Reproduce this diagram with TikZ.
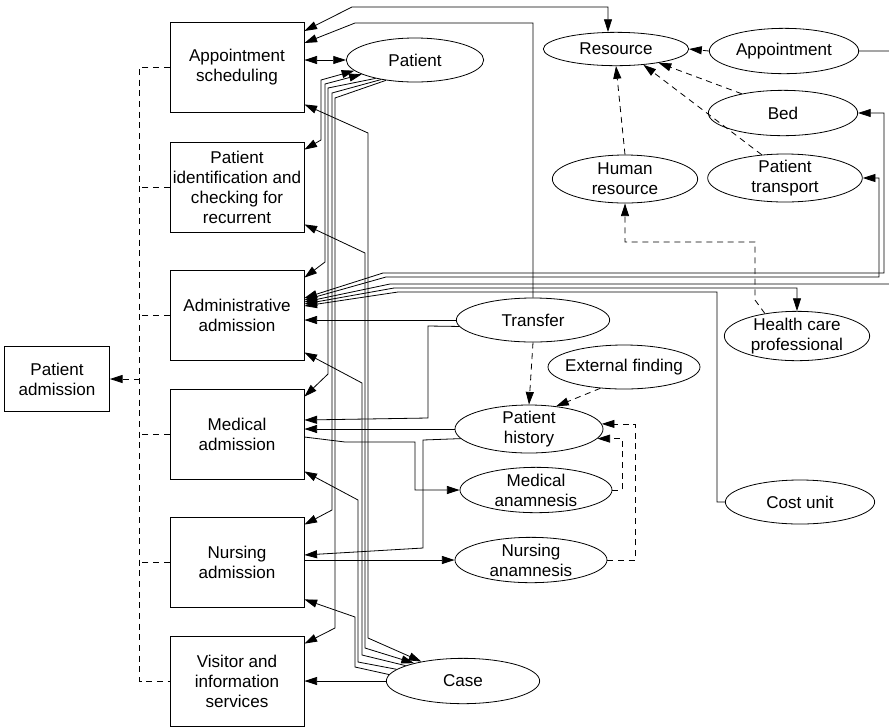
\documentclass[tikz,border=0pt]{standalone}
\usepackage{fontspec}
\setmainfont{Liberation Sans}
\usetikzlibrary{arrows.meta,shapes.geometric}
\tikzset{>={Triangle[length=9.5pt,width=6pt]}}
\tikzset{box/.style={draw,align=center,minimum width=100.5pt,minimum height=67.5pt,inner sep=1pt},
	ent/.style={draw,ellipse,align=center,minimum width=112pt,minimum height=34pt,inner xsep=-8pt,inner ysep=-4pt},
	dsh/.style={dash pattern=on 4.5pt off 3.5pt}}

\begin{document}
\begin{tikzpicture}[x=0.75pt,y=-0.75pt,line width=0.6pt,font=\fontsize{12.8pt}{15pt}\selectfont]
	\useasboundingbox (0,0) rectangle (889,726);
	% functions
	\node (as) at(237,67)[box]{Appointment\\scheduling};
	\node (pi) at(237,187)[box]{Patient\\identification and\\checking for\\recurrent};
	\node (aa) at(237,315)[box]{Administrative\\admission};
	\node (ma) at(237,434)[box]{Medical\\admission};
	\node (na) at(237,562)[box]{Nursing\\admission};
	\node (vi) at(237,681)[box]{Visitor and\\information\\services};
	\node (pa) at(57,379)[box,minimum width=78.75pt,minimum height=48.75pt]{Patient\\admission};
	% entities
	\node (pat) at(415,60)[ent,minimum width=103pt,minimum height=33pt]{Patient};
	\node (res) at(616,49)[ent,minimum width=109pt,minimum height=25pt]{Resource};
	\node (app) at(784,51)[ent]{Appointment};
	\node (bed) at(783,113)[ent]{Bed};
	\node (hr) at(625,179)[ent,minimum width=109pt,minimum height=36pt]{Human\\resource};
	\node (pt) at(785,178)[ent,minimum width=116pt,minimum height=36pt]{Patient\\transport};
	\node (tr) at(533,320)[ent,minimum width=115pt,minimum height=33pt]{Transfer};
	\node (hcp) at(797,336)[ent,minimum width=109pt,minimum height=37pt]{Health care\\professional};
	\node (ext) at(624,367)[ent,minimum width=114pt,minimum height=33pt]{External finding};
	\node (ph) at(529,429)[ent,minimum width=111pt,minimum height=36pt]{Patient\\history};
	\node (man) at(536,490)[ent,minimum width=114pt]{Medical\\anamnesis};
	\node (nan) at(531,560)[ent,minimum width=114pt]{Nursing\\anamnesis};
	\node (cu) at(800,502)[ent,minimum height=33pt]{Cost unit};
	\node (cs) at(463,681)[ent,minimum width=115pt]{Case};
	% decomposition
	\draw[dsh] (as.west) -- ++(-30,0) coordinate (t1) -- (t1 |- vi.west) -- (vi.west);
	\foreach \b in {pi,aa,ma,na} \draw[dsh] (\b.west) -- (\b.west -| t1);
	\draw[dsh,->] (t1 |- pa.east) -- (pa.east);
	% top
	\draw[<->] (as.east |- 0,31) -- (352,7) -- (608,7) -- (res.north -| 608,0);
	\draw[->] (tr.north) |- (355,23) -- (as.east |- 0,43);
	\draw[<->] (as.east |- pat.west) -- (pat.west);
	% patient bundle
	\draw[<->] (pat.190) -- (321,80) -- (321,140) -- ([yshift=-6pt]pi.north east);
	\draw[<->] (pat.195) -- (325,84) -- (325,262) -- ([yshift=-6pt]aa.north east);
	\draw[->] (pat.205) -- (328,88) -- (328,374) -- ([yshift=-6pt]ma.north east);
	\draw[->] (pat.210) -- (332,93) -- (332,510) -- ([yshift=-6pt]na.north east);
	\draw[->] (pat.215) -- (335,98) -- (335,628) -- ([yshift=-6pt]vi.north east);
	% case bundle
	\draw[<->] (cs.155) -- (368,638) -- (368,133) -- ([yshift=6pt]as.south east);
	\draw[<->] (cs.160) -- (365,648) -- (365,253) -- ([yshift=6pt]pi.south east);
	\draw[->] (cs.165) -- (362,655) -- (362,383) -- ([yshift=6pt]aa.south east);
	\draw[->] (cs.170) -- (358,662) -- (358,500) -- ([yshift=6pt]ma.south east);
	\draw[->] (cs.175) -- (355,667) -- (355,617) -- ([yshift=6pt]na.south east);
	\draw[->] (cs.west) -- (vi.east |- cs.west);
	% administrative admission
	\draw[<->] (aa.east |- 0,298) -- (383,273) -- (884,273) |- (bed.east);
	\draw[<->] (aa.east |- 0,300) -- (386,277) -- (879,277) |- (pt.east);
	\draw[->] (app.east) -- (895,51) |- (390,284) -- (aa.east |- 0,302);
	\draw[<->] (aa.east |- 0,304) -- (394,288) -| (hcp.north);
	\draw[->] (cu.west) -| (717,292) -- (398,292) -- (aa.east |- 0,306);
	\draw[->] (tr.west) -- (aa.east |- tr.west);
	% medical and nursing
	\draw[->] (tr.185) -- (428,326) -- (428,418) -- (ma.east |- 0,420);
	\draw[dsh,->] (tr.south) -- (ph.north);
	\draw[dsh,->] (ext.222) -- (ph.40);
	\draw[->] (ph.west) -- (ma.east |- ph.west);
	\draw[->] (ma.east |- 0,437) -- (345,442) -- (415,442) |- (man.west);
	\draw[->] (ph.188) -- (423,440) -- (423,548) -- (na.east |- 0,555);
	\draw[->] (na.east |- nan.west) -- (nan.west);
	\draw[dsh,->] (man.east) -- ++(10,0) |- (ph.-8);
	\draw[dsh,->] (nan.east) -- ++(28,0) |- (ph.4);
	% resources
	\draw[dsh,->] (app.west) -- (res.east);
	\draw[dsh,->] (bed.155) -- (res.-18);
	\draw[dsh,->] (pt.135) -- (res.-30);
	\draw[dsh,->] (hr.north) -- (res.south);
	\draw[dsh,->] (hcp.145) -- (755,300) -- (755,242) -| (hr.south);
\end{tikzpicture}
\end{document}
